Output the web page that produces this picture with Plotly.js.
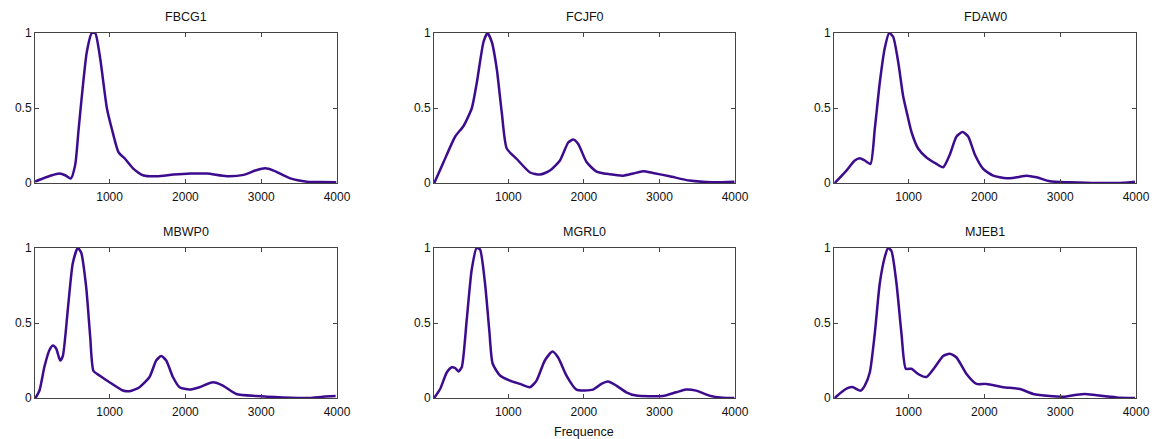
<!DOCTYPE html>
<html>
<head>
<meta charset="utf-8">
<script src="https://cdn.plot.ly/plotly-3.0.1.min.js"></script>
<style>html,body{margin:0;padding:0;background:#fff;}#chart{width:1165px;height:439px;}</style>
</head>
<body>
<div id="chart"></div>
<script>
// Speaker names (subplot titles)
const speakers = ["FBCG1", "FCJF0", "FDAW0", "MBWP0", "MGRL0", "MJEB1"];

// Frequencies (Hz) and normalised amplitudes
const freqFBCG1 = [18, 120, 230, 339, 420, 488, 546, 590, 634, 700, 766, 810, 876, 964, 1030, 1118, 1206, 1316, 1448, 1624, 1844, 2064, 2284, 2548, 2768, 2922, 3054, 3164, 3384, 3604, 3800, 3990];
const ampFBCG1  = [0.01, 0.03, 0.05, 0.063, 0.05, 0.03, 0.12, 0.35, 0.58, 0.875, 1.0, 1.0, 0.83, 0.5, 0.36, 0.205, 0.16, 0.094, 0.05, 0.045, 0.056, 0.063, 0.063, 0.045, 0.054, 0.083, 0.098, 0.083, 0.031, 0.009, 0.006, 0.005];

const freqFCJF0 = [20, 143, 297, 407, 517, 583, 671, 724, 781, 847, 913, 979, 1111, 1287, 1419, 1551, 1683, 1793, 1859, 1925, 2035, 2167, 2343, 2519, 2651, 2783, 2915, 3135, 3399, 3707, 3993];
const ampFCJF0  = [0.0, 0.14, 0.31, 0.38, 0.50, 0.67, 0.94, 1.0, 0.94, 0.76, 0.47, 0.23, 0.16, 0.07, 0.056, 0.083, 0.15, 0.27, 0.29, 0.26, 0.14, 0.076, 0.058, 0.049, 0.063, 0.078, 0.067, 0.045, 0.016, 0.005, 0.009];

const freqFDAW0 = [26, 180, 290, 356, 422, 497, 554, 620, 686, 744, 796, 862, 928, 981, 1038, 1126, 1236, 1368, 1456, 1544, 1632, 1712, 1786, 1874, 1984, 2116, 2292, 2424, 2556, 2688, 2864, 3128, 3480, 3832, 3986];
const ampFDAW0  = [0.0, 0.083, 0.15, 0.165, 0.15, 0.127, 0.36, 0.67, 0.90, 1.0, 0.975, 0.81, 0.58, 0.46, 0.34, 0.23, 0.17, 0.127, 0.105, 0.19, 0.31, 0.34, 0.31, 0.19, 0.094, 0.049, 0.031, 0.038, 0.049, 0.038, 0.011, 0.005, 0.0, 0.002, 0.009];

const freqMBWP0 = [22, 75, 141, 207, 251, 295, 348, 383, 449, 515, 581, 625, 691, 744, 788, 867, 999, 1175, 1263, 1395, 1527, 1615, 1681, 1747, 1835, 1923, 2055, 2187, 2363, 2495, 2671, 2935, 3287, 3639, 3815, 3982];
const ampMBWP0  = [0.0, 0.05, 0.21, 0.32, 0.35, 0.33, 0.25, 0.28, 0.59, 0.90, 1.0, 0.97, 0.74, 0.41, 0.18, 0.15, 0.105, 0.05, 0.045, 0.072, 0.14, 0.25, 0.28, 0.25, 0.14, 0.072, 0.056, 0.072, 0.105, 0.083, 0.027, 0.013, 0.004, 0.0, 0.009, 0.013];

const freqMGRL0 = [18, 97, 185, 251, 295, 339, 383, 449, 515, 581, 625, 691, 748, 792, 889, 1021, 1153, 1285, 1373, 1483, 1584, 1659, 1769, 1901, 2121, 2231, 2319, 2429, 2561, 2693, 3045, 3221, 3353, 3485, 3661, 3837, 3991];
const ampMGRL0  = [0.0, 0.06, 0.17, 0.205, 0.2, 0.177, 0.205, 0.52, 0.855, 1.0, 0.99, 0.765, 0.45, 0.23, 0.15, 0.116, 0.094, 0.072, 0.116, 0.25, 0.31, 0.27, 0.15, 0.056, 0.056, 0.094, 0.11, 0.083, 0.038, 0.016, 0.013, 0.038, 0.056, 0.049, 0.016, 0.002, 0.0];

const freqMJEB1 = [26, 114, 202, 268, 312, 365, 422, 488, 554, 620, 686, 730, 774, 840, 906, 964, 1038, 1126, 1236, 1346, 1456, 1544, 1632, 1764, 1896, 2028, 2248, 2468, 2644, 2864, 3040, 3216, 3326, 3480, 3744, 3986];
const ampMJEB1  = [0.0, 0.038, 0.067, 0.072, 0.06, 0.049, 0.083, 0.17, 0.43, 0.765, 0.94, 1.0, 0.98, 0.765, 0.43, 0.195, 0.195, 0.16, 0.14, 0.205, 0.28, 0.295, 0.27, 0.16, 0.094, 0.094, 0.072, 0.06, 0.027, 0.013, 0.009, 0.022, 0.027, 0.018, 0.004, 0.0];

const xTicks = [1000, 2000, 3000, 4000];
const yTicks = [0, 0.5, 1];
const yTickText = ["0", "0.5", "1"];
const xLabel = "Frequence";

const freqs = [freqFBCG1, freqFCJF0, freqFDAW0, freqMBWP0, freqMGRL0, freqMJEB1];
const amps  = [ampFBCG1, ampFCJF0, ampFDAW0, ampMBWP0, ampMGRL0, ampMJEB1];

const W = 1165, H = 439;
const colPx = [[35, 337], [434, 735], [834, 1136]];
const rowPx = [[33, 183], [248, 398]];
const FONT = "Liberation Sans, Arial, sans-serif";

const traces = [];
const layout = {
  width: W, height: H,
  margin: {l: 0, r: 0, t: 0, b: 0},
  paper_bgcolor: "#ffffff",
  plot_bgcolor: "#ffffff",
  showlegend: false,
  font: {family: FONT, size: 12, color: "#111"},
  annotations: []
};

for (let i = 0; i < 6; i++) {
  const r = Math.floor(i / 3), c = i % 3;
  const n = i + 1;
  const xa = n === 1 ? "x" : "x" + n;
  const ya = n === 1 ? "y" : "y" + n;
  traces.push({
    x: freqs[i], y: amps[i], xaxis: xa, yaxis: ya,
    type: "scatter", mode: "lines",
    line: {color: "#3d0c8e", width: 2.5, shape: "spline", smoothing: 0.6},
    hoverinfo: "skip"
  });
  const xd = [colPx[c][0] / W, colPx[c][1] / W];
  const yd = [1 - rowPx[r][1] / H, 1 - rowPx[r][0] / H];
  const axCommon = {
    showgrid: false, zeroline: false,
    showline: true, linecolor: "#444", linewidth: 1,
    mirror: "ticks", ticks: "inside", ticklen: 4, tickcolor: "#444",
    tickfont: {family: FONT, size: 12, color: "#111"},
    fixedrange: true
  };
  layout["xaxis" + (n === 1 ? "" : n)] = Object.assign({}, axCommon, {
    domain: xd, range: [16, 4000], anchor: ya,
    tickmode: "array", tickvals: xTicks, ticktext: xTicks.map(String),
    ticklabelstandoff: 3
  });
  layout["yaxis" + (n === 1 ? "" : n)] = Object.assign({}, axCommon, {
    domain: yd, range: [0, 1], anchor: xa,
    tickmode: "array", tickvals: yTicks, ticktext: yTickText
  });
  layout.annotations.push({
    text: speakers[i], xref: "paper", yref: "paper",
    x: (xd[0] + xd[1]) / 2, y: yd[1] + 16.5 / H,
    xanchor: "center", yanchor: "middle", showarrow: false,
    font: {family: FONT, size: 12.5, color: "#111"}
  });
}
layout.annotations.push({
  text: xLabel, xref: "paper", yref: "paper",
  x: 584 / W, y: 1 - 432 / H, xanchor: "center", yanchor: "middle", showarrow: false,
  font: {family: FONT, size: 12.5, color: "#111"}
});

Plotly.newPlot("chart", traces, layout, {displayModeBar: false, staticPlot: true});
</script>
</body>
</html>
